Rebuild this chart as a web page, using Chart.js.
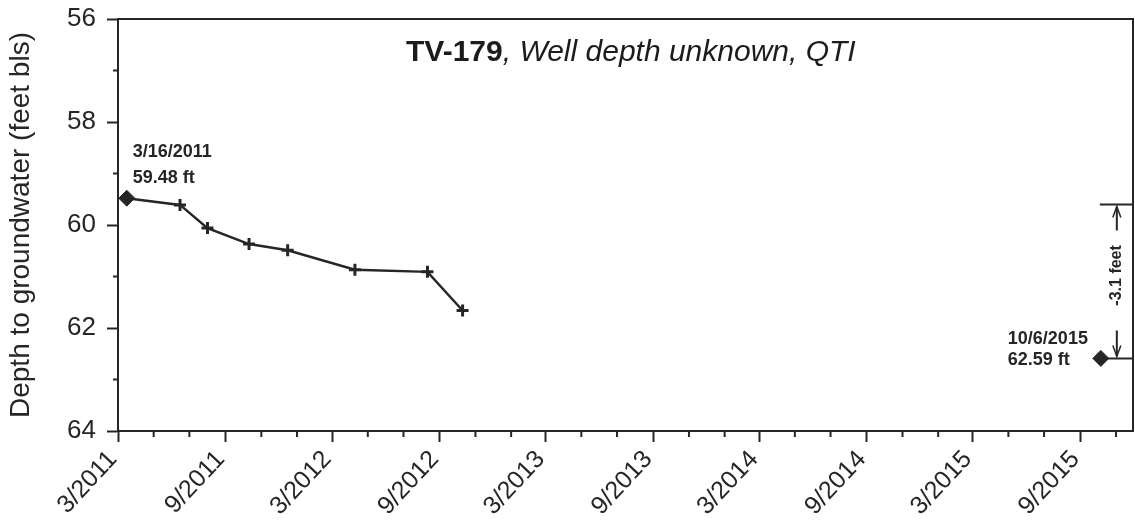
<!DOCTYPE html>
<html>
<head>
<meta charset="utf-8">
<script src="https://cdn.jsdelivr.net/npm/chart.js@4/dist/chart.umd.min.js"></script>
<style>
  html, body { margin: 0; padding: 0; background: #fff; }
  #wrap { width: 1135px; height: 525px; position: relative; }
</style>
</head>
<body>
<div id="wrap"><canvas id="wellChart"></canvas></div>
<script>
// Mediciones del pozo TV-179 (fecha, profundidad en pies bajo superficie)
const measureDates = ['2011-03-16', '2011-06-15', '2011-08-01', '2011-10-11', '2011-12-16', '2012-04-09', '2012-08-11', '2012-10-10'];
const measureDepths = [59.48, 59.61, 60.06, 60.37, 60.49, 60.87, 60.91, 61.66];
const lastDates = ['2015-10-06'];
const lastDepths = [62.59];
const yTicks = [56, 58, 60, 62, 64];
const yMinorTicks = [57, 59, 61, 63];
const changeFeet = '-3.1 feet';
const changeTop = 59.6;

const FONT = '"Liberation Sans", Arial, sans-serif';
const INK = '#262626';

function dayNum(s) {
    const [y, m, d] = s.split('-').map(Number);
    return Date.UTC(y, m - 1, d) / 864e5;
}

// ticks cada 2 meses, mayores en marzo y septiembre
const majorTicks = [];
const minorTicks = [];
for (let y = 2011; y <= 2015; y++) {
    for (let m = 1; m <= 12; m += 2) {
        if (y === 2011 && m < 3) continue;
        if (y === 2015 && m > 11) continue;
        const v = Date.UTC(y, m - 1, 1) / 864e5;
        if (m === 3 || m === 9) majorTicks.push(v); else minorTicks.push(v);
    }
}

const firstSeries = measureDates.map((d, i) => ({ x: dayNum(d), y: measureDepths[i] }));
const lastSeries = lastDates.map((d, i) => ({ x: dayNum(d), y: lastDepths[i] }));

const extras = {
    id: 'extras',
    afterDraw(chart) {
        const { ctx, chartArea: a, scales } = chart;
        const xs = scales.x, ys = scales.y;
        ctx.save();
        // marco
        ctx.strokeStyle = INK;
        ctx.lineWidth = 2;
        ctx.strokeRect(a.left, a.top, a.right - a.left, a.bottom - a.top);
        // ticks menores
        ctx.beginPath();
        minorTicks.forEach(v => {
            const px = xs.getPixelForValue(v);
            ctx.moveTo(px, a.bottom); ctx.lineTo(px, a.bottom + 6);
        });
        yMinorTicks.forEach(v => {
            const py = ys.getPixelForValue(v);
            ctx.moveTo(a.left, py); ctx.lineTo(a.left - 5, py);
        });
        ctx.stroke();

        // etiquetas de puntos
        ctx.fillStyle = INK;
        ctx.font = 'bold 18px ' + FONT;
        ctx.textBaseline = 'middle';
        ctx.textAlign = 'left';
        const p0 = firstSeries[0];
        const x0 = xs.getPixelForValue(p0.x), y0 = ys.getPixelForValue(p0.y);
        ctx.fillText('3/16/2011', x0 + 6, y0 - 46);
        ctx.fillText(p0.y.toFixed(2) + ' ft', x0 + 6, y0 - 20);
        const p1 = lastSeries[0];
        const x1 = xs.getPixelForValue(p1.x), y1 = ys.getPixelForValue(p1.y);
        ctx.fillText('10/6/2015', x1 - 93, y1 - 19);
        ctx.fillText(p1.y.toFixed(2) + ' ft', x1 - 93, y1 + 2);

        // cota del cambio
        const yTop = ys.getPixelForValue(changeTop);
        const xb = x1 + 16;
        ctx.strokeStyle = INK;
        ctx.lineWidth = 2;
        ctx.beginPath();
        ctx.moveTo(x1 - 1, yTop); ctx.lineTo(a.right, yTop);
        ctx.moveTo(x1 + 6, y1); ctx.lineTo(a.right, y1);
        ctx.moveTo(xb, yTop + 26); ctx.lineTo(xb, yTop + 2);
        ctx.moveTo(xb, y1 - 28); ctx.lineTo(xb, y1 - 2);
        ctx.stroke();
        ctx.lineWidth = 1.5;
        ctx.beginPath();
        ctx.moveTo(xb - 4, yTop + 13); ctx.lineTo(xb, yTop + 2); ctx.lineTo(xb + 4, yTop + 13);
        ctx.moveTo(xb - 4, y1 - 13); ctx.lineTo(xb, y1 - 2); ctx.lineTo(xb + 4, y1 - 13);
        ctx.stroke();
        ctx.translate(xb, (yTop + y1) / 2 - 6);
        ctx.rotate(-Math.PI / 2);
        ctx.textAlign = 'center';
        ctx.font = 'bold 16px ' + FONT;
        ctx.fillText(changeFeet, 0, 0);
        ctx.restore();

        // título
        ctx.save();
        ctx.fillStyle = '#1c1c1c';
        ctx.textBaseline = 'middle';
        ctx.textAlign = 'left';
        const t1 = 'TV-179', t2 = ', Well depth unknown, QTI';
        ctx.font = 'bold 30px ' + FONT;
        const w1 = ctx.measureText(t1).width;
        const sx = 406;
        ctx.fillText(t1, sx, 53);
        ctx.font = 'italic 30px ' + FONT;
        ctx.fillText(t2, sx + w1, 53);
        ctx.restore();
    }
};

new Chart(document.getElementById('wellChart').getContext('2d'), {
    type: 'scatter',
    data: {
        datasets: [{
            data: firstSeries,
            showLine: true,
            borderColor: INK,
            backgroundColor: INK,
            borderWidth: 2.5,
            pointStyle: firstSeries.map((p, i) => i === 0 ? 'rectRot' : 'cross'),
            pointRadius: firstSeries.map((p, i) => i === 0 ? 8 : 6),
            pointBorderWidth: firstSeries.map((p, i) => i === 0 ? 1 : 3)
        }, {
            data: lastSeries,
            showLine: false,
            borderColor: INK,
            backgroundColor: INK,
            pointStyle: 'rectRot',
            pointRadius: 8,
            pointBorderWidth: 1
        }]
    },
    options: {
        responsive: true,
        maintainAspectRatio: false,
        animation: false,
        layout: { autoPadding: false, padding: { top: 19, right: 2, left: 0, bottom: 0 } },
        plugins: {
            legend: { display: false },
            tooltip: { enabled: false }
        },
        scales: {
            x: {
                type: 'linear',
                min: dayNum('2011-03-01'),
                max: dayNum('2015-11-30'),
                afterBuildTicks: (scale) => { scale.ticks = majorTicks.map(v => ({ value: v })); },
                afterFit: (scale) => {
                    scale.height = 94;
                    scale.paddingLeft = 0; scale.paddingRight = 0;
                },
                border: { display: true, color: INK, width: 2 },
                grid: { drawOnChartArea: false, drawTicks: true, tickLength: 11, tickColor: INK, tickWidth: 2 },
                ticks: {
                    autoSkip: false,
                    minRotation: 47,
                    maxRotation: 47,
                    padding: 3,
                    labelOffset: -5,
                    color: INK,
                    font: { family: FONT, size: 25 },
                    callback: (v) => {
                        const d = new Date(v * 864e5);
                        return (d.getUTCMonth() + 1) + '/' + d.getUTCFullYear();
                    }
                }
            },
            y: {
                reverse: true,
                min: 56,
                max: 64,
                afterBuildTicks: (scale) => { scale.ticks = yTicks.map(v => ({ value: v })); },
                afterFit: (scale) => {
                    scale.width = 118;
                    scale.paddingTop = 0; scale.paddingBottom = 0;
                },
                border: { display: true, color: INK, width: 2 },
                grid: { drawOnChartArea: false, drawTicks: true, tickLength: 11, tickColor: INK, tickWidth: 2 },
                ticks: {
                    padding: 11,
                    color: INK,
                    font: { family: FONT, size: 26 }
                },
                title: {
                    display: true,
                    text: 'Depth to groundwater (feet bls)',
                    color: INK,
                    font: { family: FONT, size: 28 },
                    padding: { top: 4, bottom: 0 }
                }
            }
        }
    },
    plugins: [extras]
});
</script>
</body>
</html>
